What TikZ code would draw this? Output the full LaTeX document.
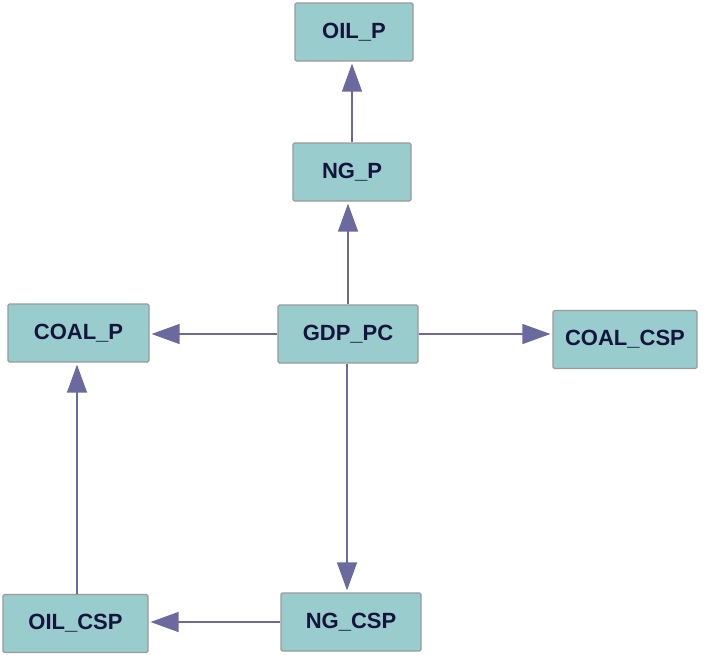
\documentclass[tikz,border=0pt]{standalone}
\usepackage{fontspec}
\setmainfont{Liberation Sans}
\usetikzlibrary{arrows.meta}
\definecolor{boxfill}{HTML}{99CCCC}
\definecolor{boxline}{HTML}{9A9A9A}
\definecolor{edgecol}{HTML}{6A6A9E}
\definecolor{txtcol}{HTML}{14143C}
\begin{document}
\begin{tikzpicture}[x=1pt,y=-1pt,
  vbox/.style={draw=boxline, line width=1.2pt, fill=boxfill, rounded corners=1.5pt,
    minimum height=58pt, inner sep=0pt, font=\fontsize{22}{26}\selectfont\bfseries, text=txtcol},
  edge/.style={draw=edgecol, line width=1.3pt, -{Triangle[length=28pt,width=20pt]}, shorten >=2pt}]
\useasboundingbox (0,0) rectangle (725,654);
\node[vbox, minimum width=118pt] (oilp) at (354,32) {OIL\_P};
\node[vbox, minimum width=118pt] (ngp) at (352,172) {NG\_P};
\node[vbox, minimum width=140pt] (gdp) at (348,334) {GDP\_PC};
\node[vbox, minimum width=144pt] (coalcsp) at (625,339.5) {COAL\_CSP};
\node[vbox, minimum width=141pt] (coalp) at (78.5,333) {COAL\_P};
\node[vbox, minimum width=145pt] (oilcsp) at (75.5,623.5) {OIL\_CSP};
\node[vbox, minimum width=140pt] (ngcsp) at (351,622) {NG\_CSP};
\draw[edge] (gdp.north -| ngp.south) ++(-4,0) coordinate (g1) -- (g1 |- ngp.south);
\draw[edge] (ngp.north) -- (ngp.north |- oilp.south);
\draw[edge] (gdp.west) -- (gdp.west -| coalp.east);
\draw[edge] (gdp.east) -- (gdp.east -| coalcsp.west);
\draw[edge] (gdp.south) ++(-1,0) coordinate (g2) -- (g2 |- ngcsp.north);
\draw[edge] (ngcsp.west) -- (ngcsp.west -| oilcsp.east);
\draw[edge] (oilcsp.north) ++(1.5,0) coordinate (o1) -- (o1 |- coalp.south);
\end{tikzpicture}
\end{document}
